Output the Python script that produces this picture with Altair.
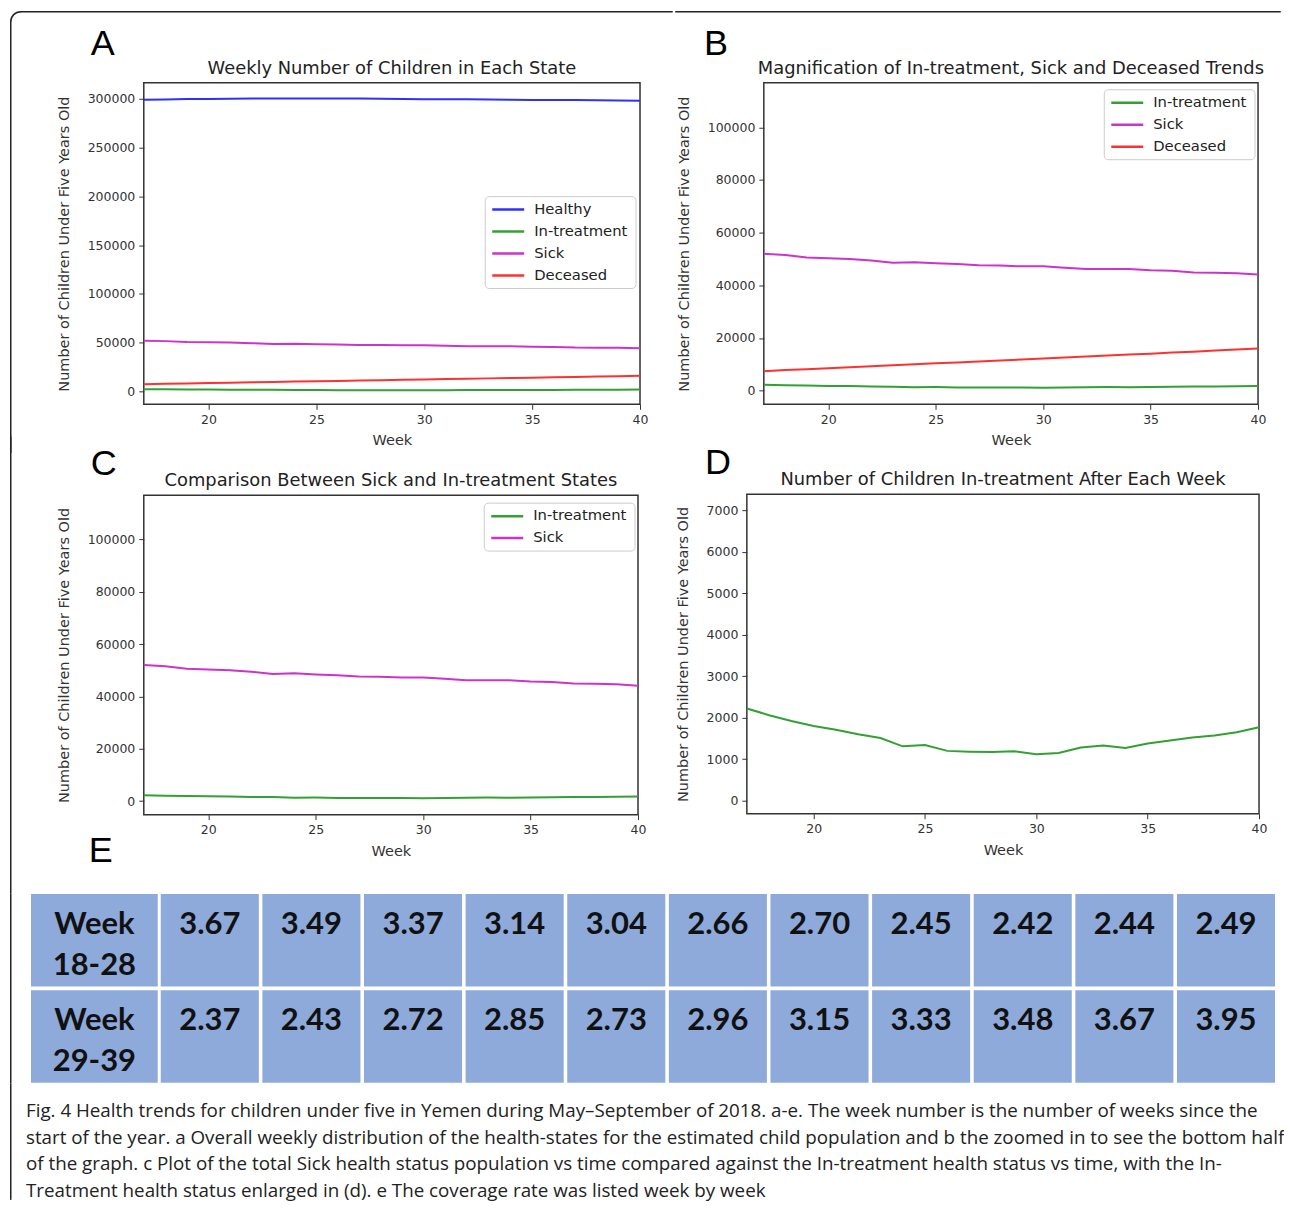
import math
import altair as alt
import pandas as pd

# ---------------- data ----------------
weeks = list(range(17, 41))
healthy = [299000, 299300, 299700, 299900, 300000, 300200, 300400, 300300, 300200, 300200,
           300300, 300000, 299800, 299600, 299600, 299600, 299300, 299000, 298900, 298800,
           298700, 298500, 298300, 298000]
in_treatment = [2220, 2060, 1920, 1800, 1710, 1600, 1510, 1310, 1340, 1200, 1180, 1170,
                1190, 1120, 1150, 1280, 1330, 1270, 1380, 1450, 1520, 1570, 1650, 1770]
sick = [52000, 51500, 50600, 50300, 50000, 49400, 48600, 48800, 48400, 48100, 47600, 47500,
        47200, 47200, 46700, 46200, 46200, 46200, 45700, 45500, 44900, 44800, 44600, 44100]
deceased = [7400, 7800, 8150, 8500, 8900, 9250, 9600, 10000, 10350, 10700, 11100, 11450,
            11800, 12200, 12550, 12950, 13300, 13700, 14050, 14450, 14800, 15200, 15600, 16000]

state_names = ["Healthy", "In-treatment", "Sick", "Deceased"]
state_colors = ["#2f2fff", "#33a033", "#cc33cc", "#ff3030"]

panel_letters = ["A", "B", "C", "D", "E"]
panel_titles = [
    "Weekly Number of Children in Each State",
    "Magnification of In-treatment, Sick and Deceased Trends",
    "Comparison Between Sick and In-treatment States",
    "Number of Children In-treatment After Each Week",
]
x_label = "Week"
y_label = "Number of Children Under Five Years Old"
x_ticks = [20, 25, 30, 35, 40]
y_ticks_a = [0, 50000, 100000, 150000, 200000, 250000, 300000]
y_ticks_bc = [0, 20000, 40000, 60000, 80000, 100000]
y_ticks_d = [0, 1000, 2000, 3000, 4000, 5000, 6000, 7000]

table_row_labels = ["Week\n18-28", "Week\n29-39"]
rates_weeks_18_28 = [3.67, 3.49, 3.37, 3.14, 3.04, 2.66, 2.70, 2.45, 2.42, 2.44, 2.49]
rates_weeks_29_39 = [2.37, 2.43, 2.72, 2.85, 2.73, 2.96, 3.15, 3.33, 3.48, 3.67, 3.95]

caption_lines = [
    "Fig. 4 Health trends for children under five in Yemen during May\u2013September of 2018. a-e. The week number is the number of weeks since the",
    "start of the year. a Overall weekly distribution of the health-states for the estimated child population and b the zoomed in to see the bottom half",
    "of the graph. c Plot of the total Sick health status population vs time compared against the In-treatment health status vs time, with the In-",
    "Treatment health status enlarged in (d). e The coverage rate was listed week by week",
]

# ---------------- build tables ----------------
series = {"Healthy": healthy, "In-treatment": in_treatment, "Sick": sick, "Deceased": deceased}
rows = []
for name in state_names:
    for w, v in zip(weeks, series[name]):
        rows.append({"week": w, "count": v, "state": name})
long_df = pd.DataFrame(rows)

FONT = "DejaVu Sans"
TABLE_BLUE = "#8eaadb"
ONE = pd.DataFrame({"k": [0]})
BORDER = "#222222"
BX = -133.25      # outer figure frame, relative to the left column's plot origin
BY = -71.25       # outer figure frame, relative to the top row's plot origin


def vrule(x, y1, y2, opacity=1.0):
    return alt.Chart(ONE).mark_rule(color=BORDER, strokeWidth=1.5, strokeCap="square",
                                    opacity=opacity).encode(
        x=alt.value(x), y=alt.value(y1), y2=alt.value(y2))


def hrule(y, x1, x2, opacity=1.0):
    return alt.Chart(ONE).mark_rule(color=BORDER, strokeWidth=1.5, strokeCap="square",
                                    opacity=opacity).encode(
        x=alt.value(x1), x2=alt.value(x2), y=alt.value(y))


def corner(x, y):
    return alt.Chart(ONE).mark_arc(theta=1.5 * math.pi, theta2=2 * math.pi, radius=10.75, radius2=9.25,
                                   color=BORDER).encode(x=alt.value(x), y=alt.value(y))


def text_layer(txt, x, y, **kw):
    return alt.Chart(pd.DataFrame({"t": [txt]})).mark_text(**kw).encode(
        text="t:N", x=alt.value(x), y=alt.value(y))


def panel(names, title, ydom, yticks, w, h, letters_here, legend_xy=None, extras=()):
    data = long_df[long_df["state"].isin(names)]
    cols = [state_colors[state_names.index(n)] for n in names]
    cscale = alt.Scale(domain=names, range=cols)
    lines = alt.Chart(data).mark_line(strokeWidth=2).encode(
        x=alt.X("week:Q", scale=alt.Scale(domain=[17, 40], nice=False, zero=False),
                axis=alt.Axis(values=x_ticks, title=x_label, labelFlush=False)),
        y=alt.Y("count:Q", scale=alt.Scale(domain=ydom, nice=False, zero=False),
                axis=alt.Axis(values=yticks, format="d", title=y_label)),
        color=alt.Color("state:N", scale=cscale, legend=None),
    )
    layers = [lines]
    layers.append(text_layer(title, w / 2, -9, font=FONT, fontSize=17.9, align="center",
                             baseline="alphabetic", color="#222"))
    for (lt, lx, ly) in letters_here:
        layers.append(text_layer(lt, lx, ly, font="Liberation Sans", fontSize=36, align="left",
                                 baseline="alphabetic", color="#000"))
    layers += list(extras)
    resolve = False
    if legend_xy is not None:
        lx, ly = legend_xy
        n = len(names)
        ldf = pd.DataFrame({"state": names})
        yscale = alt.Scale(type="point", domain=names, range=[ly + 13, ly + 13 + 22 * (n - 1)], padding=0)
        box = alt.Chart(ldf.head(1)).mark_rect(fill="#ffffff", fillOpacity=0.85, stroke="#cccccc",
                                               strokeWidth=1, cornerRadius=4).encode(
            x=alt.value(lx), x2=alt.value(lx + 151), y=alt.value(ly), y2=alt.value(ly + 26 + 22 * (n - 1)))
        sym = alt.Chart(ldf).mark_rule(strokeWidth=2.5).encode(
            x=alt.value(lx + 7), x2=alt.value(lx + 39),
            y=alt.Y("state:N", scale=yscale, axis=None),
            color=alt.Color("state:N", scale=cscale, legend=None))
        lab = alt.Chart(ldf).mark_text(font=FONT, fontSize=14.8, align="left", baseline="middle",
                                       color="#222").encode(
            x=alt.value(lx + 49), y=alt.Y("state:N", scale=yscale, axis=None), text="state:N")
        layers += [box, sym, lab]
        resolve = True
    ch = alt.layer(*layers).properties(
        width=w, height=h,
        view=alt.ViewBackground(stroke="#333", strokeWidth=1.5),
    )
    if resolve:
        ch = ch.resolve_scale(y="independent")
    return ch


A = panel(state_names, panel_titles[0], [-13300, 316400], y_ticks_a, 497, 322,
          [(panel_letters[0], -53, -28)], legend_xy=(342, 114),
          extras=[corner(BX + 10, BY + 10), vrule(BX, BY + 10, 370), hrule(BY, BX + 10, 529)])
B = panel(["In-treatment", "Sick", "Deceased"], panel_titles[1], [-5200, 116900], y_ticks_bc, 495, 322,
          [(panel_letters[1], -60, -28)], legend_xy=(341, 7),
          extras=[hrule(BY, -88, 517), vrule(0, 0, 370, opacity=0)])
C = panel(["In-treatment", "Sick"], panel_titles[2], [-5200, 116900], y_ticks_bc, 495, 320,
          [(panel_letters[2], -53, -20), (panel_letters[4], -55, 367)], legend_xy=(341, 8),
          extras=[vrule(BX, -58, 398), hrule(0, 0, 526, opacity=0)])
D = panel(["In-treatment"], panel_titles[3], [-313, 7385], y_ticks_d, 513, 320,
          [(panel_letters[3], -42, -20)], extras=[vrule(0, -58, 0, opacity=0)])

grid = alt.concat(A, B, C, D, columns=2, spacing={"row": -19, "column": 0}, align="none")

# ---------------- table ----------------
first_df = pd.DataFrame({"row": [0, 1], "col": [0, 0], "label": table_row_labels})
vrows = []
for r, vals in enumerate([rates_weeks_18_28, rates_weeks_29_39]):
    for c, v in enumerate(vals):
        vrows.append({"row": r, "col": c, "rate": v})
vals_df = pd.DataFrame(vrows)

yband = alt.Scale(paddingInner=0.04, paddingOuter=0)
first_x = alt.Scale(paddingInner=0, paddingOuter=0, range=[-113, 14])
first_rect = alt.Chart(first_df).mark_rect(color=TABLE_BLUE).encode(
    x=alt.X("col:O", axis=None, scale=first_x),
    y=alt.Y("row:O", axis=None, scale=yband),
)
first_text = alt.Chart(first_df).mark_text(
    font="Lato", fontSize=31, fontWeight="bold", color="#111", lineBreak="\n", lineHeight=41,
    baseline="alphabetic", dy=40
).encode(
    x=alt.X("col:O", axis=None, scale=first_x),
    y=alt.Y("row:O", axis=None, bandPosition=0),
    text="label:N",
)
first_col = alt.layer(first_rect, first_text, vrule(BX, 0, 189)).properties(width=14, height=189)

val_rect = alt.Chart(vals_df).mark_rect(color=TABLE_BLUE).encode(
    x=alt.X("col:O", axis=None, scale=alt.Scale(paddingInner=0.035, paddingOuter=0)),
    y=alt.Y("row:O", axis=None, scale=yband),
)
val_text = alt.Chart(vals_df).mark_text(
    font="Lato", fontSize=31, fontWeight="bold", color="#111", baseline="alphabetic", dy=40
).encode(
    x=alt.X("col:O", axis=None),
    y=alt.Y("row:O", axis=None, bandPosition=0),
    text=alt.Text("rate:Q", format=".2f"),
)
val_cols = alt.layer(val_rect, val_text).properties(width=1116, height=189)

table = alt.hconcat(first_col, val_cols, spacing=3)

# ---------------- caption ----------------
cap_df = pd.DataFrame({"i": list(range(len(caption_lines))), "line": caption_lines})
caption_text = alt.Chart(cap_df).mark_text(
    font="Open Sans", fontSize=18.8, align="left", baseline="middle", color="#222"
).encode(
    x=alt.value(-118),
    y=alt.Y("i:O", axis=None, scale=alt.Scale(type="point", padding=0)),
    text="line:N",
)
caption = alt.layer(caption_text, vrule(BX, -27, 88)).properties(width=1, height=79.5)

bottom = alt.concat(table, caption, columns=1, spacing=-2.5, align="none")

chart = alt.concat(grid, bottom, columns=1, spacing=-2.5, align="none").properties(
    padding={"left": 0, "top": 0, "right": 0, "bottom": 0}
).configure(font=FONT).configure_view(strokeWidth=0).configure_axis(
    grid=False, domain=False, tickColor="#333", tickSize=5, tickWidth=1,
    labelFont=FONT, labelFontSize=12.5, labelColor="#333", labelPadding=4,
    titleFont=FONT, titleFontSize=14.5, titleFontWeight="normal", titleColor="#333",
).configure_axisY(titlePadding=16).configure_axisX(titlePadding=8)

chart.save("out.html", embed_options={"renderer": "svg", "actions": False})
